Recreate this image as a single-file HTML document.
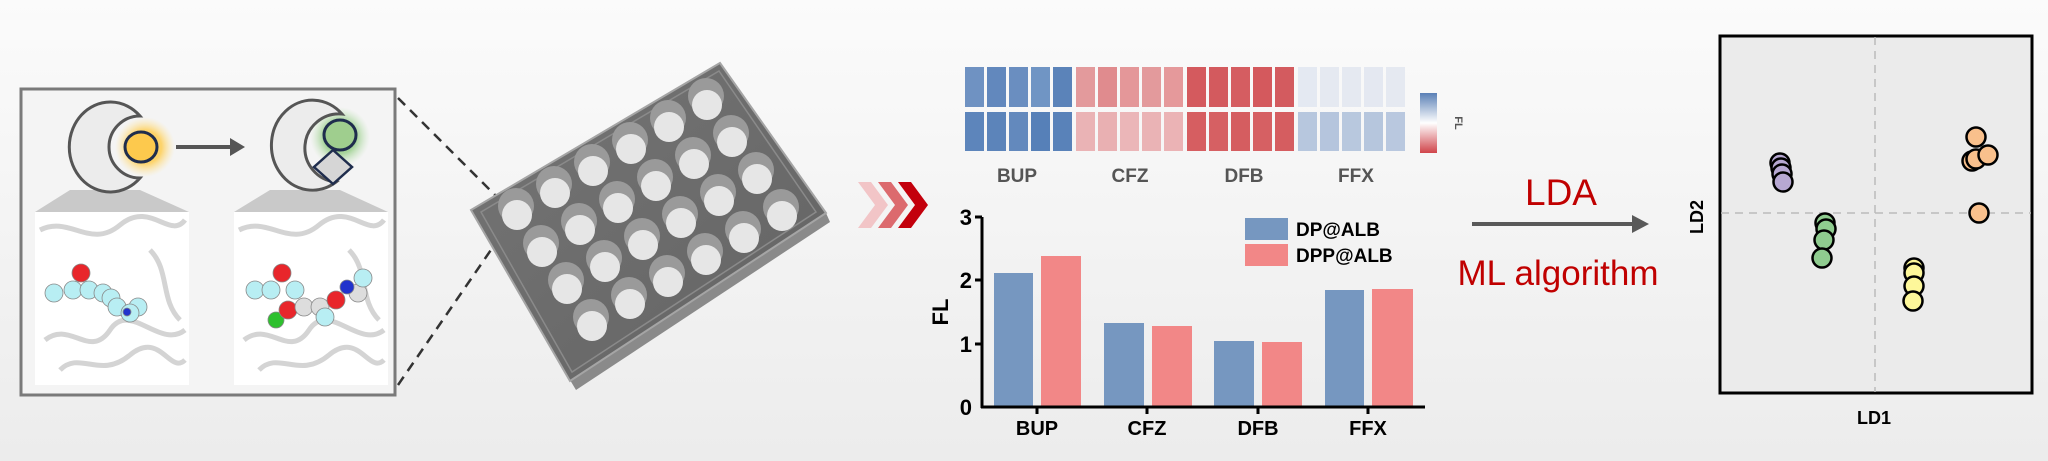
<!DOCTYPE html>
<html><head><meta charset="utf-8"><style>
html,body{margin:0;padding:0}
body{width:2048px;height:461px;overflow:hidden;background:linear-gradient(#fbfbfb,#ececec);font-family:"Liberation Sans",Arial,sans-serif}
svg{position:absolute;left:0;top:0}
</style></head><body>
<svg width="2048" height="461" viewBox="0 0 2048 461" xmlns="http://www.w3.org/2000/svg">
<defs>
<radialGradient id="gy"><stop offset="0.55" stop-color="#fdd36a"/><stop offset="1" stop-color="#fde9b0" stop-opacity="0"/></radialGradient>
<radialGradient id="gg"><stop offset="0.55" stop-color="#a6d49a"/><stop offset="1" stop-color="#cfe8c8" stop-opacity="0"/></radialGradient>
<linearGradient id="cb" x1="0" y1="0" x2="0" y2="1"><stop offset="0" stop-color="#5a80b6"/><stop offset="0.5" stop-color="#ffffff"/><stop offset="1" stop-color="#d0444a"/></linearGradient>
<linearGradient id="pl" x1="0" y1="0" x2="1" y2="1"><stop offset="0" stop-color="#757575"/><stop offset="1" stop-color="#636363"/></linearGradient>
</defs>

<rect x="21" y="89" width="374" height="306" fill="#f4f4f4" stroke="#7a7a7a" stroke-width="3"/>
<polygon points="70,190 140,190 189,212 35,212" fill="#c9c9c9"/>
<polygon points="270,190 340,190 388,212 234,212" fill="#c9c9c9"/>
<circle cx="145" cy="147" r="30" fill="url(#gy)"/>
<path d="M140,116 A41,45 0 1 0 140,178 A26,26 0 0 1 140,116 Z" fill="#ececec" stroke="#555" stroke-width="3"/>
<ellipse cx="141" cy="147" rx="16" ry="15" fill="#fdc94d" stroke="#1f2d4d" stroke-width="3"/>
<line x1="176" y1="147" x2="232" y2="147" stroke="#555" stroke-width="4"/>
<polygon points="230,138 245,147 230,156" fill="#555"/>
<circle cx="340" cy="137" r="30" fill="url(#gg)"/>
<path d="M342,114 A41,45 0 1 0 336,182 A30,30 0 0 1 342,114 Z" fill="#ececec" stroke="#555" stroke-width="3"/>
<ellipse cx="340" cy="135" rx="16" ry="15" fill="#9fce8e" stroke="#1f2d4d" stroke-width="3"/>
<polygon points="333,150 352,167 333,184 314,167" fill="#d6d6d6" stroke="#1f2d4d" stroke-width="2.5"/>
<rect x="35" y="212" width="154" height="173" fill="#fff"/>
<rect x="234" y="212" width="154" height="173" fill="#fff"/>
<g fill="none" stroke="#d4d4d4" stroke-width="5">
<path d="M40,230 C70,215 90,250 120,225 S170,240 185,220"/><path d="M45,340 C70,320 90,360 110,330 S160,350 185,330"/>
<path d="M60,370 C80,350 100,380 130,355 S170,375 185,360"/><path d="M150,250 C170,270 160,300 180,320"/>
<path d="M239,230 C269,215 289,250 319,225 S369,240 384,220"/><path d="M244,340 C269,320 289,360 309,330 S359,350 384,330"/>
<path d="M259,370 C279,350 299,380 329,355 S369,375 384,360"/><path d="M349,250 C369,270 359,300 379,320"/>
</g>
<g stroke="#888" stroke-width="0.8">
<circle cx="54" cy="293" r="9" fill="#b8eef3"/><circle cx="73" cy="290" r="9" fill="#b8eef3"/><circle cx="89" cy="290" r="9" fill="#b8eef3"/>
<circle cx="103" cy="293" r="9" fill="#b8eef3"/><circle cx="111" cy="298" r="9" fill="#b8eef3"/><circle cx="117" cy="307" r="9" fill="#b8eef3"/>
<circle cx="138" cy="307" r="9" fill="#b8eef3"/><circle cx="130" cy="313" r="9" fill="#b8eef3"/><circle cx="127" cy="312" r="4" fill="#2233cc"/>
<circle cx="81" cy="273" r="9" fill="#e8262b"/>
<circle cx="255" cy="290" r="9" fill="#b8eef3"/><circle cx="271" cy="290" r="9" fill="#b8eef3"/><circle cx="295" cy="290" r="9" fill="#b8eef3"/>
<circle cx="282" cy="273" r="9" fill="#e8262b"/><circle cx="276" cy="320" r="8" fill="#2ec02e"/><circle cx="288" cy="310" r="9" fill="#e8262b"/>
<circle cx="304" cy="307" r="9" fill="#ddd"/><circle cx="320" cy="307" r="9" fill="#ddd"/><circle cx="358" cy="293" r="9" fill="#ddd"/>
<circle cx="347" cy="287" r="7" fill="#2233cc"/><circle cx="336" cy="300" r="9" fill="#e8262b"/><circle cx="325" cy="317" r="9" fill="#b8eef3"/>
<circle cx="363" cy="278" r="9" fill="#b8eef3"/>
</g>
<line x1="398" y1="98" x2="510" y2="210" stroke="#333" stroke-width="2.5" stroke-dasharray="10,7"/>
<line x1="398" y1="385" x2="515" y2="215" stroke="#333" stroke-width="2.5" stroke-dasharray="10,7"/>
<!-- plate -->
<polygon points="470,212 570,380 576,390 830,222 826,213 570,380" fill="#8a8a8a"/>
<polygon points="720,63 826,213 570,381 471,210" fill="url(#pl)" stroke="#a5a5a5" stroke-width="2"/>
<polygon points="719,71 816,212 572,372 481,212" fill="none" stroke="#8a8a8a" stroke-width="1.5"/>
<g fill="#9a9a9a">
<circle cx="516" cy="206" r="18"/><circle cx="554" cy="184" r="18"/><circle cx="592" cy="162" r="18"/><circle cx="630" cy="140" r="18"/><circle cx="668" cy="118" r="18"/><circle cx="706" cy="96" r="18"/>
<circle cx="541" cy="243" r="18"/><circle cx="579" cy="221" r="18"/><circle cx="617" cy="199" r="18"/><circle cx="655" cy="177" r="18"/><circle cx="693" cy="155" r="18"/><circle cx="731" cy="133" r="18"/>
<circle cx="566" cy="280" r="18"/><circle cx="604" cy="258" r="18"/><circle cx="642" cy="236" r="18"/><circle cx="680" cy="214" r="18"/><circle cx="718" cy="192" r="18"/><circle cx="756" cy="170" r="18"/>
<circle cx="591" cy="317" r="18"/><circle cx="629" cy="295" r="18"/><circle cx="667" cy="273" r="18"/><circle cx="705" cy="251" r="18"/><circle cx="743" cy="229" r="18"/><circle cx="781" cy="207" r="18"/>
</g>
<g fill="#e6e6e6">
<circle cx="517" cy="215" r="15"/><circle cx="555" cy="193" r="15"/><circle cx="593" cy="171" r="15"/><circle cx="631" cy="149" r="15"/><circle cx="669" cy="127" r="15"/><circle cx="707" cy="105" r="15"/>
<circle cx="542" cy="252" r="15"/><circle cx="580" cy="230" r="15"/><circle cx="618" cy="208" r="15"/><circle cx="656" cy="186" r="15"/><circle cx="694" cy="164" r="15"/><circle cx="732" cy="142" r="15"/>
<circle cx="567" cy="289" r="15"/><circle cx="605" cy="267" r="15"/><circle cx="643" cy="245" r="15"/><circle cx="681" cy="223" r="15"/><circle cx="719" cy="201" r="15"/><circle cx="757" cy="179" r="15"/>
<circle cx="592" cy="326" r="15"/><circle cx="630" cy="304" r="15"/><circle cx="668" cy="282" r="15"/><circle cx="706" cy="260" r="15"/><circle cx="744" cy="238" r="15"/><circle cx="782" cy="216" r="15"/>
</g>

<polygon points="858,182 871,182 888,205 871,228 858,228 875,205" fill="#f2c5c7"/>
<polygon points="878,182 891,182 908,205 891,228 878,228 895,205" fill="#dc6a6e"/>
<polygon points="898,182 911,182 928,205 911,228 898,228 915,205" fill="#c3000c"/>

<g>
<rect x="965" y="67" width="19" height="40" fill="#6f92c2"/><rect x="987" y="67" width="19" height="40" fill="#6288bd"/><rect x="1009" y="67" width="19" height="40" fill="#6a8ec0"/><rect x="1031" y="67" width="19" height="40" fill="#7095c4"/><rect x="1053" y="67" width="19" height="40" fill="#5b83b9"/>
<rect x="1076" y="67" width="19" height="40" fill="#e39a9c"/><rect x="1098" y="67" width="19" height="40" fill="#e08b8e"/><rect x="1120" y="67" width="19" height="40" fill="#e49799"/><rect x="1142" y="67" width="19" height="40" fill="#e39a9c"/><rect x="1164" y="67" width="19" height="40" fill="#e5999b"/>
<rect x="1187" y="67" width="19" height="40" fill="#d45a5e"/><rect x="1209" y="67" width="19" height="40" fill="#d35a5e"/><rect x="1231" y="67" width="19" height="40" fill="#d55d61"/><rect x="1253" y="67" width="19" height="40" fill="#d4595d"/><rect x="1275" y="67" width="19" height="40" fill="#d35b5f"/>
<rect x="1298" y="67" width="19" height="40" fill="#e4e9f2"/><rect x="1320" y="67" width="19" height="40" fill="#e5e9f1"/><rect x="1342" y="67" width="19" height="40" fill="#e5e9f1"/><rect x="1364" y="67" width="19" height="40" fill="#e4e8f1"/><rect x="1386" y="67" width="19" height="40" fill="#e5e9f1"/>
<rect x="965" y="112" width="19" height="39" fill="#5d85bb"/><rect x="987" y="112" width="19" height="39" fill="#5c84ba"/><rect x="1009" y="112" width="19" height="39" fill="#6389bd"/><rect x="1031" y="112" width="19" height="39" fill="#5680b8"/><rect x="1053" y="112" width="19" height="39" fill="#5982b9"/>
<rect x="1076" y="112" width="19" height="39" fill="#eab3b5"/><rect x="1098" y="112" width="19" height="39" fill="#e9b0b2"/><rect x="1120" y="112" width="19" height="39" fill="#ebb6b8"/><rect x="1142" y="112" width="19" height="39" fill="#eab3b5"/><rect x="1164" y="112" width="19" height="39" fill="#ebb3b5"/>
<rect x="1187" y="112" width="19" height="39" fill="#d65e61"/><rect x="1209" y="112" width="19" height="39" fill="#d66063"/><rect x="1231" y="112" width="19" height="39" fill="#d55d60"/><rect x="1253" y="112" width="19" height="39" fill="#d66063"/><rect x="1275" y="112" width="19" height="39" fill="#d55d60"/>
<rect x="1298" y="112" width="19" height="39" fill="#b7c7de"/><rect x="1320" y="112" width="19" height="39" fill="#b5c5dd"/><rect x="1342" y="112" width="19" height="39" fill="#b8c8de"/><rect x="1364" y="112" width="19" height="39" fill="#b6c6dd"/><rect x="1386" y="112" width="19" height="39" fill="#b9c8df"/>
</g>
<rect x="1420" y="93" width="17" height="60" fill="url(#cb)"/>
<text transform="translate(1455,123) rotate(90)" font-size="11" font-weight="bold" fill="#555" text-anchor="middle">FL</text>
<g font-size="19" font-weight="bold" fill="#555" text-anchor="middle">
<text x="1017" y="182">BUP</text><text x="1130" y="182">CFZ</text><text x="1244" y="182">DFB</text><text x="1356" y="182">FFX</text>
</g>

<g>
<rect x="994" y="273" width="39" height="134" fill="#7697c0"/><rect x="1041" y="256" width="40" height="151" fill="#f28787"/>
<rect x="1104" y="323" width="40" height="84" fill="#7697c0"/><rect x="1152" y="326" width="40" height="81" fill="#f28787"/>
<rect x="1214" y="341" width="40" height="66" fill="#7697c0"/><rect x="1262" y="342" width="40" height="65" fill="#f28787"/>
<rect x="1325" y="290" width="39" height="117" fill="#7697c0"/><rect x="1372" y="289" width="41" height="118" fill="#f28787"/>
</g>
<g stroke="#000" stroke-width="3">
<line x1="982" y1="217" x2="982" y2="408"/><line x1="981" y1="407" x2="1425" y2="407"/>
<line x1="975" y1="217" x2="982" y2="217"/><line x1="975" y1="280" x2="982" y2="280"/><line x1="975" y1="344" x2="982" y2="344"/>
<line x1="1037" y1="407" x2="1037" y2="414"/><line x1="1147" y1="407" x2="1147" y2="414"/><line x1="1258" y1="407" x2="1258" y2="414"/><line x1="1368" y1="407" x2="1368" y2="414"/>
</g>
<g font-size="22" font-weight="bold" fill="#000" text-anchor="end">
<text x="972" y="225">3</text><text x="972" y="288">2</text><text x="972" y="352">1</text><text x="972" y="415">0</text>
</g>
<text transform="translate(948,312) rotate(-90)" font-size="22" font-weight="bold" text-anchor="middle">FL</text>
<g font-size="20" font-weight="bold" text-anchor="middle">
<text x="1037" y="435">BUP</text><text x="1147" y="435">CFZ</text><text x="1258" y="435">DFB</text><text x="1368" y="435">FFX</text>
</g>
<rect x="1245" y="218" width="43" height="22" fill="#7697c0"/><rect x="1245" y="244" width="43" height="22" fill="#f28787"/>
<g font-size="19" font-weight="bold"><text x="1296" y="236">DP@ALB</text><text x="1296" y="262">DPP@ALB</text></g>

<text x="1561" y="205" font-size="37" fill="#c00000" text-anchor="middle">LDA</text>
<line x1="1472" y1="224" x2="1636" y2="224" stroke="#595959" stroke-width="4"/>
<polygon points="1632,215 1649,224 1632,233" fill="#595959"/>
<text x="1558" y="285" font-size="35" fill="#c00000" text-anchor="middle">ML algorithm</text>

<rect x="1720" y="36" width="312" height="357" fill="#ebebeb" stroke="#000" stroke-width="3"/>
<line x1="1875" y1="37" x2="1875" y2="392" stroke="#bbb" stroke-width="1.5" stroke-dasharray="8,6"/>
<line x1="1721" y1="213" x2="2031" y2="213" stroke="#bbb" stroke-width="1.5" stroke-dasharray="8,6"/>
<text transform="translate(1703,217) rotate(-90)" font-size="18" font-weight="bold" text-anchor="middle">LD2</text>
<text x="1874" y="424" font-size="18" font-weight="bold" text-anchor="middle">LD1</text>
<g stroke="#000" stroke-width="2.5">
<circle cx="1780" cy="163" r="9.5" fill="#b7a8d2"/><circle cx="1781" cy="168" r="9.5" fill="#b7a8d2"/><circle cx="1782" cy="174" r="9.5" fill="#b7a8d2"/><circle cx="1783" cy="182" r="9.5" fill="#b7a8d2"/>
<circle cx="1825" cy="223" r="9.5" fill="#8fcc8f"/><circle cx="1826" cy="229" r="9.5" fill="#8fcc8f"/><circle cx="1824" cy="240" r="9.5" fill="#8fcc8f"/><circle cx="1822" cy="258" r="9.5" fill="#8fcc8f"/>
<circle cx="1914" cy="268" r="9.5" fill="#fdf79a"/><circle cx="1914" cy="273" r="9.5" fill="#fdf79a"/><circle cx="1914" cy="286" r="9.5" fill="#fdf79a"/><circle cx="1913" cy="301" r="9.5" fill="#fdf79a"/>
<circle cx="1976" cy="137" r="9.5" fill="#f9c08c"/><circle cx="1972" cy="161" r="9.5" fill="#f9c08c"/><circle cx="1976" cy="159" r="9.5" fill="#f9c08c"/><circle cx="1988" cy="155" r="9.5" fill="#f9c08c"/><circle cx="1979" cy="213" r="9.5" fill="#f9c08c"/>
</g>
</svg>
</body></html>
